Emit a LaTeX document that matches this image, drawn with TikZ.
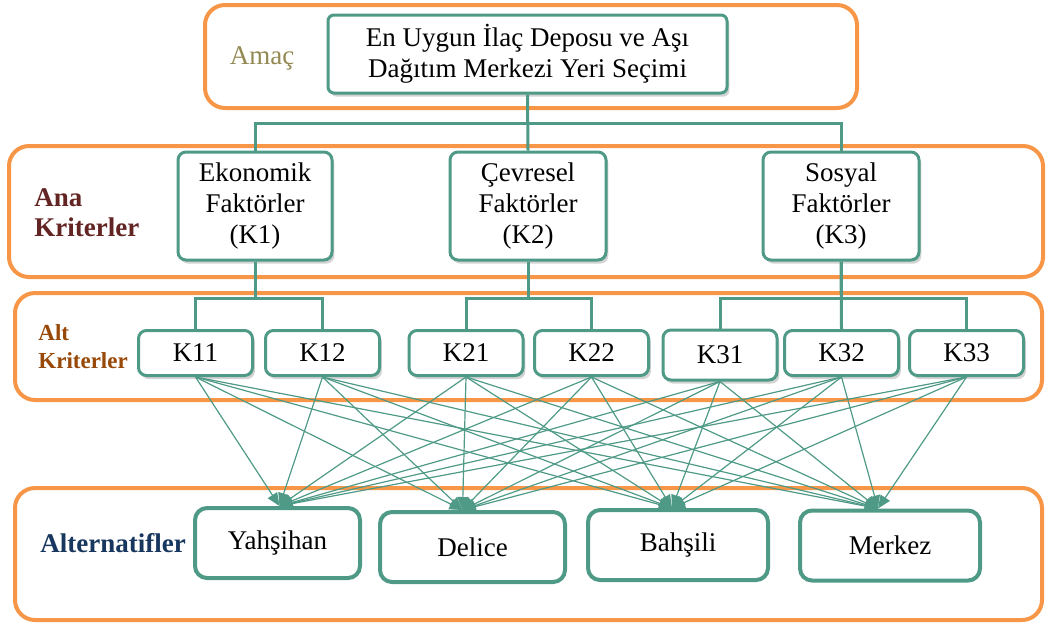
\documentclass[tikz,border=0pt]{standalone}
\usepackage{fontspec}
\setmainfont{Liberation Serif}
\usepackage{tikz}
\usetikzlibrary{arrows.meta,shadows}

\definecolor{tealline}{RGB}{78,154,134}
\definecolor{framecol}{RGB}{247,150,70}
\definecolor{goalcol}{RGB}{147,137,83}
\definecolor{anacol}{RGB}{99,37,35}
\definecolor{altcol}{RGB}{152,72,7}
\definecolor{alternatcol}{RGB}{23,55,94}

\begin{document}
\begin{tikzpicture}[x=0.5pt,y=-0.5pt,
  font=\fontsize{13.5}{15.5}\selectfont,
  frame/.style={draw=framecol,line width=2pt,rounded corners=10pt},
  crit/.style={draw=tealline,fill=white,line width=1.5pt,rounded corners=4pt,align=center,
    drop shadow={shadow xshift=1.2pt,shadow yshift=-1.8pt,opacity=0.35}},
  subcrit/.style={crit,minimum width=57pt,minimum height=22.5pt,inner sep=1pt},
  alternative/.style={draw=tealline,fill=white,line width=2pt,rounded corners=6pt,minimum height=35pt},
  link/.style={draw=tealline,line width=1.5pt},
  arr/.style={draw=tealline,line width=0.6pt,-{Triangle[length=6.5pt,width=5.5pt]}},
  lbl/.style={font=\fontsize{13.5}{15}\selectfont\bfseries,align=left,inner sep=0pt,anchor=west}]
  \useasboundingbox (0,0) rectangle (1048,623);

  % level frames
  \draw[frame] (205,5) rectangle (857,108);
  \draw[frame] (9,146) rectangle (1043,277);
  \draw[frame] (15,293) rectangle (1042,400);
  \draw[frame] (15,488) rectangle (1042,620);

  % level labels
  \node[text=goalcol] (amac) at (262,58) {Amaç};
  \node[lbl,text=anacol] (ana) at (34,213) {Ana\\Kriterler};
  \node[lbl,text=altcol,font=\fontsize{11.5}{14}\selectfont\bfseries] (alt) at (38,347) {Alt\\Kriterler};
  \node[lbl,text=alternatcol] (alternatifler) at (40,543) {Alternatifler};

  % goal and criteria
  \node[crit,minimum width=199.5pt,minimum height=39pt,rounded corners=3pt] (goal) at (527.5,54)
    {En Uygun İlaç Deposu ve Aşı\\Dağıtım Merkezi Yeri Seçimi};
  \node[crit,minimum width=77pt,minimum height=54pt] (K1) at (255,206) {Ekonomik\\Faktörler\\(K1)};
  \node[crit,minimum width=78pt,minimum height=54pt] (K2) at (528,206) {Çevresel\\Faktörler\\(K2)};
  \node[crit,minimum width=78pt,minimum height=54pt] (K3) at (841,206) {Sosyal\\Faktörler\\(K3)};

  % sub-criteria
  \node[subcrit] (K11) at (195.5,353) {K11};
  \node[subcrit] (K12) at (322.5,353) {K12};
  \node[subcrit] (K21) at (466,353) {K21};
  \node[subcrit] (K22) at (591.5,353) {K22};
  \node[subcrit,minimum height=25pt] (K31) at (720,355) {K31};
  \node[subcrit] (K32) at (841.5,353) {K32};
  \node[subcrit] (K33) at (966.5,353) {K33};

  % tree connectors
  \draw[link] (goal.south) -- ++(0,29) -| (K1.north);
  \draw[link] (goal.south) -- ++(0,29) -| (K3.north);
  \draw[link] (goal.south) -- (K2.north);
  \draw[link] (K1.south) -- ++(0,37) -| (K11.north);
  \draw[link] (K1.south) -- ++(0,37) -| (K12.north);
  \draw[link] (K2.south) -- ++(0,37) -| (K21.north);
  \draw[link] (K2.south) -- ++(0,37) -| (K22.north);
  \draw[link] (K3.south) -- ++(0,37) -| (K31.north);
  \draw[link] (K3.south) -- ++(0,37) -| (K33.north);
  \draw[link] (K3.south) -- (K32.north);

  % alternatives
  \node[alternative,minimum width=82.5pt] (A1) at (277.5,543) {Yahşihan};
  \node[alternative,minimum width=92.5pt] (A2) at (472.5,547) {Delice};
  \node[alternative,minimum width=90pt] (A3) at (678,545) {Bahşili};
  \node[alternative,minimum width=90pt] (A4) at (890,545.5) {Merkez};

  \coordinate (t1) at ([xshift=1pt]A1.north);
  \coordinate (t2) at ([xshift=-5pt]A2.north);
  \coordinate (t3) at ([xshift=-3pt]A3.north);
  \coordinate (t4) at ([xshift=-6pt]A4.north);

  % every sub-criterion to every alternative
  \foreach \s in {K11,K12,K21,K22,K31,K32,K33}
    \foreach \t in {t1,t2,t3,t4}
      \draw[arr] (\s.south) -- (\t);
\end{tikzpicture}
\end{document}
